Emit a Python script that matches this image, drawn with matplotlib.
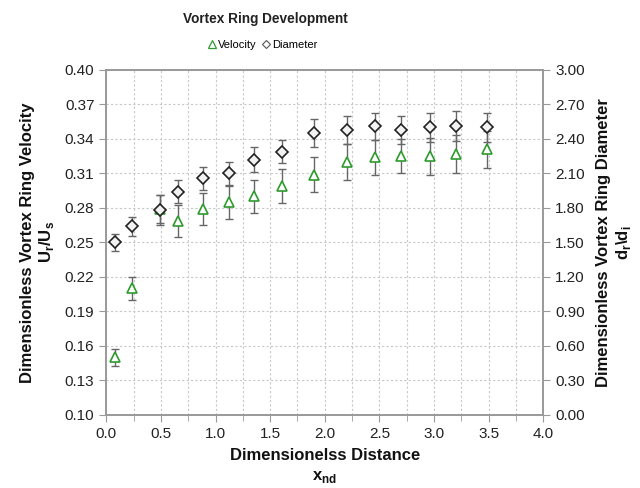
import matplotlib
matplotlib.use("Agg")
import matplotlib.pyplot as plt
from matplotlib.ticker import MultipleLocator, FormatStrFormatter
from matplotlib.lines import Line2D

plt.rcParams['font.family'] = ['Liberation Sans', 'DejaVu Sans']
plt.rcParams['mathtext.fontset'] = 'custom'
plt.rcParams['mathtext.rm'] = 'Liberation Sans'
plt.rcParams['mathtext.bf'] = 'Liberation Sans:bold'

x_nd = [0.08, 0.24, 0.49, 0.66, 0.89, 1.12, 1.35, 1.61, 1.90, 2.20, 2.46, 2.70, 2.96, 3.20, 3.48]
velocity = [0.150, 0.210, 0.279, 0.269, 0.279, 0.285, 0.290, 0.299, 0.309, 0.320, 0.324, 0.325, 0.325, 0.327, 0.331]
velocity_err = [0.007, 0.010, 0.012, 0.014, 0.014, 0.0145, 0.0145, 0.015, 0.015, 0.016, 0.0155, 0.015, 0.016, 0.0165, 0.016]
diameter = [1.50, 1.64, 1.78, 1.94, 2.06, 2.10, 2.22, 2.29, 2.45, 2.48, 2.51, 2.48, 2.50, 2.51, 2.50]
diameter_err = [0.07, 0.08, 0.13, 0.10, 0.10, 0.10, 0.11, 0.10, 0.12, 0.12, 0.12, 0.12, 0.13, 0.13, 0.125]

fig = plt.figure(figsize=(6.4, 4.88), dpi=100)
ax = fig.add_axes([0.166, 0.1496, 0.683, 0.707])
ax2 = ax.twinx()

grey = '#999999'
ax.errorbar(x_nd, velocity, yerr=velocity_err, fmt='none', ecolor='#666666',
            elinewidth=1.0, capsize=3, capthick=1.0, zorder=3)
ax.plot(x_nd, velocity, linestyle='none', marker='^', markersize=7.5,
        markerfacecolor='white', markeredgecolor='#2e9a2e', markeredgewidth=1.2, zorder=4)
ax2.errorbar(x_nd, diameter, yerr=diameter_err, fmt='none', ecolor='#666666',
             elinewidth=1.0, capsize=3, capthick=1.0, zorder=3)
ax2.plot(x_nd, diameter, linestyle='none', marker='D', markersize=6,
         markerfacecolor='#f2f2f2', markeredgecolor='#222222', markeredgewidth=1.2, zorder=4)

ax.set_xlim(0, 4.0)
ax.set_ylim(0.10, 0.40)
ax2.set_ylim(0.0, 3.0)
ax.xaxis.set_major_locator(MultipleLocator(0.5))
ax.xaxis.set_minor_locator(MultipleLocator(0.25))
ax.yaxis.set_major_locator(MultipleLocator(0.03, offset=0.01))
ax2.yaxis.set_major_locator(MultipleLocator(0.30))
ax.xaxis.set_major_formatter(FormatStrFormatter('%.1f'))
ax.yaxis.set_major_formatter(FormatStrFormatter('%.2f'))
ax2.yaxis.set_major_formatter(FormatStrFormatter('%.2f'))

ax.grid(True, which='both', axis='x', linestyle=(0, (2, 2)), color='#c8c8c8', linewidth=0.8)
ax.grid(True, which='major', axis='y', linestyle=(0, (2, 2)), color='#c8c8c8', linewidth=0.8)
ax.set_axisbelow(True)

for a in (ax, ax2):
    for s in a.spines.values():
        s.set_color(grey)
        s.set_linewidth(1.2)
    a.tick_params(which='both', direction='out', color=grey, labelsize=11, labelcolor='#222222')
    a.tick_params(which='major', length=5)
    a.tick_params(which='minor', length=4)

ax.set_xlabel('Dimensionelss Distance\nx$_\\mathbf{nd}$', fontsize=12, fontweight='bold', labelpad=5,
              color='#111111', linespacing=1.4)
ax.set_ylabel('Dimensionless Vortex Ring Velocity\nU$_\\mathbf{r}$/U$_\\mathbf{s}$', fontsize=12,
              fontweight='bold', labelpad=6, color='#111111')
ax2.set_ylabel('Dimensionless Vortex Ring Diameter\nd$_\\mathbf{r}$\\d$_\\mathbf{i}$', fontsize=12,
               fontweight='bold', labelpad=8, color='#111111')

fig.text(0.414, 0.962, 'Vortex Ring Development', ha='center', va='center', fontsize=9.8,
         fontweight='bold', color='#222222')

handles = [
    Line2D([], [], linestyle='none', marker='^', markersize=6, markerfacecolor='white',
           markeredgecolor='#2e9a2e', markeredgewidth=0.9, label='Velocity'),
    Line2D([], [], linestyle='none', marker='D', markersize=4.5, markerfacecolor='white',
           markeredgecolor='#555555', markeredgewidth=0.8, label='Diameter'),
]
fig.legend(handles=handles, loc='center', bbox_to_anchor=(0.411, 0.908), ncol=2, frameon=False,
           fontsize=8, handlelength=0.6, handletextpad=0.2, columnspacing=0.6)

fig.savefig('out.png', dpi=100)
